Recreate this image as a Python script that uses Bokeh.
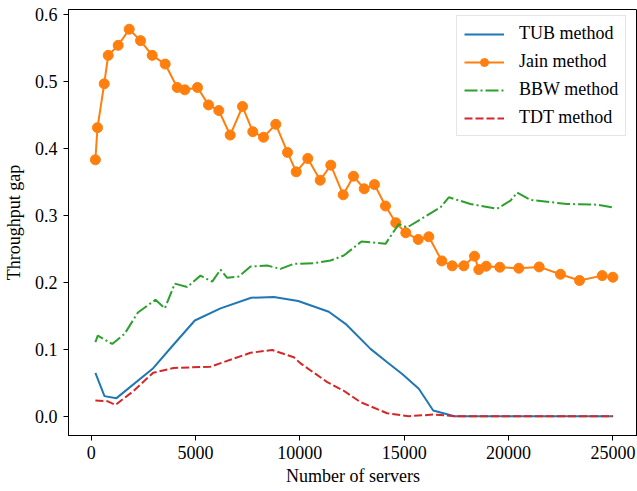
from bokeh.plotting import figure
from bokeh.models import Range1d, Legend, LegendItem, FixedTicker, PrintfTickFormatter
from bokeh.embed import file_html
from bokeh.resources import INLINE

# ---- data ----
tub_x = [200, 637, 1212, 2971, 3910, 4965, 6196, 7668, 8751, 9920, 11386, 12187,
         13385, 14185, 14904, 15699, 16389, 17410, 25000]
tub_y = [0.0648, 0.030, 0.027, 0.0717, 0.1056, 0.143, 0.161, 0.177, 0.178, 0.172,
         0.156, 0.138, 0.1006, 0.0807, 0.063, 0.041, 0.0085, 0.0, 0.0]

jain_x = [200, 302, 623, 815, 1294, 1821, 2363, 2923, 3546, 4121, 4486, 5094, 5621,
          6115, 6661, 7251, 7744, 8257, 8846, 9407, 9824, 10380, 10974, 11482, 12076,
          12570, 13083, 13576, 14103, 14597, 15076, 15671, 16179, 16801, 17300, 17856,
          18369, 18575, 18929, 19581, 20492, 21469, 22490, 23401, 24488, 25000]
jain_y = [0.383, 0.431, 0.4965, 0.539, 0.554, 0.578, 0.561, 0.539, 0.526, 0.491,
          0.4875, 0.491, 0.465, 0.4566, 0.420, 0.4626, 0.425, 0.4167, 0.436, 0.394,
          0.365, 0.385, 0.3525, 0.375, 0.3307, 0.3585, 0.3397, 0.346, 0.314, 0.289,
          0.274, 0.264, 0.268, 0.232, 0.2246, 0.2246, 0.239, 0.219, 0.224, 0.2226,
          0.221, 0.223, 0.212, 0.2027, 0.210, 0.2076]

bbw_x = [200, 316, 1006, 1600, 2240, 3081, 3527, 4006, 4601, 5236, 5800, 6196, 6517,
         7073, 7634, 8434, 9072, 9709, 10668, 11468, 12105, 12954, 14104, 14740,
         15140, 16739, 17137, 18177, 19456, 20094, 20415, 21052, 22811, 24249, 25000]
bbw_y = [0.1106, 0.1205, 0.108, 0.123, 0.155, 0.174, 0.161, 0.198, 0.193, 0.210,
         0.201, 0.219, 0.2067, 0.2087, 0.2236, 0.225, 0.220, 0.2276, 0.2285, 0.2326,
         0.240, 0.261, 0.2575, 0.287, 0.282, 0.312, 0.327, 0.317, 0.310, 0.322,
         0.334, 0.323, 0.317, 0.316, 0.312]

tdt_x = [200, 767, 1165, 2041, 2971, 3958, 5717, 7634, 8674, 9709, 10030, 11310,
         12105, 12905, 14185, 15220, 16418, 17410, 25000]
tdt_y = [0.0235, 0.0225, 0.017, 0.038, 0.065, 0.072, 0.074, 0.0947, 0.099, 0.088,
         0.079, 0.051, 0.038, 0.021, 0.0045, 0.0, 0.0025, 0.0, 0.0]

x_ticks = [0, 5000, 10000, 15000, 20000, 25000]
y_ticks = [0.0, 0.1, 0.2, 0.3, 0.4, 0.5, 0.6]
labels = ["TUB method", "Jain method", "BBW method", "TDT method"]

FONT = "Liberation Serif"
C_BLUE, C_ORANGE, C_GREEN, C_RED = "#1f77b4", "#ff7f0e", "#2ca02c", "#d62728"

p = figure(width=637, height=491, output_backend="svg", toolbar_location=None,
           x_range=Range1d(-1088, 26180), y_range=Range1d(-0.0288, 0.6075),
           min_border_left=68, min_border_right=0, min_border_top=9,
           min_border_bottom=56)
p.background_fill_color = "white"
p.border_fill_color = "white"
p.outline_line_color = "black"
p.outline_line_width = 1
p.xgrid.visible = False
p.ygrid.visible = False

for ax in (p.xaxis[0], p.yaxis[0]):
    ax.axis_line_color = "black"
    ax.axis_line_width = 1
    ax.major_tick_out = 5
    ax.major_tick_in = 0
    ax.minor_tick_out = 0
    ax.minor_tick_in = 0
    ax.major_label_text_font = FONT
    ax.major_label_text_font_size = "18px"
    ax.major_label_text_color = "black"
    ax.axis_label_text_font = FONT
    ax.axis_label_text_font_size = "18px"
    ax.axis_label_text_font_style = "normal"
    ax.axis_label_text_color = "black"

p.xaxis.ticker = FixedTicker(ticks=x_ticks)
p.yaxis.ticker = FixedTicker(ticks=y_ticks)
p.xaxis.formatter = PrintfTickFormatter(format="%d")
p.yaxis.formatter = PrintfTickFormatter(format="%.1f")
p.xaxis.axis_label = "Number of servers"
p.yaxis.axis_label = "Throughput gap"
p.xaxis.major_label_standoff = 5
p.yaxis.major_label_standoff = 6
p.xaxis.axis_label_standoff = 4
p.yaxis.axis_label_standoff = 8

r_tub = p.line(tub_x, tub_y, line_color=C_BLUE, line_width=2)
r_jain = p.line(jain_x, jain_y, line_color=C_ORANGE, line_width=2)
r_jain_pts = p.scatter(jain_x, jain_y, size=10, fill_color=C_ORANGE, line_color=C_ORANGE)
r_bbw = p.line(bbw_x, bbw_y, line_color=C_GREEN, line_width=2, line_dash="13 3 2 3")
r_tdt = p.line(tdt_x, tdt_y, line_color=C_RED, line_width=2, line_dash="8 3")

legend = Legend(items=[
    LegendItem(label=labels[0], renderers=[r_tub]),
    LegendItem(label=labels[1], renderers=[r_jain, r_jain_pts]),
    LegendItem(label=labels[2], renderers=[r_bbw]),
    LegendItem(label=labels[3], renderers=[r_tdt]),
], location=(388, 299))
legend.label_text_font = FONT
legend.label_text_font_size = "18px"
legend.label_text_color = "black"
legend.glyph_width = 40
legend.glyph_height = 20
legend.label_height = 20
legend.label_standoff = 15
legend.spacing = 7
legend.padding = 7
legend.margin = 0
legend.border_line_color = "#cccccc"
legend.border_line_width = 1
legend.background_fill_alpha = 0.8
p.add_layout(legend, "center")

open("out.html", "w").write(file_html(p, INLINE))
